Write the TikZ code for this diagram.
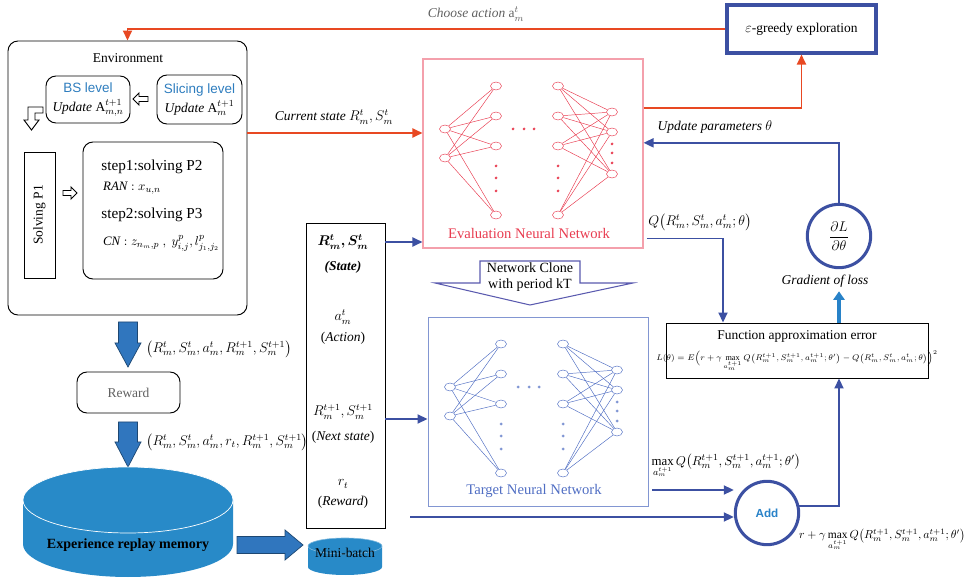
\documentclass[tikz,border=0pt]{standalone}
\usepackage{fontspec}
\setmainfont{Liberation Serif}
\setsansfont{Liberation Sans}
\usepackage{amsmath,bm}
\usetikzlibrary{positioning, shapes.geometric, arrows.meta}
\usepackage{xcolor}
\definecolor{act_orange}{RGB}{232,72,34}
\definecolor{line_blue}{RGB}{60,80,162}
\definecolor{eval_red}{RGB}{232,60,80}
\definecolor{eval_pink}{RGB}{244,160,172}
\definecolor{tgt_blue}{RGB}{80,110,195}
\definecolor{tgt_frame}{RGB}{130,150,210}
\definecolor{mem_blue}{RGB}{40,138,200}
\definecolor{blk_blue}{RGB}{48,118,190}
\definecolor{lvl_blue}{RGB}{46,125,190}
\definecolor{grad_blue}{RGB}{40,130,200}
\definecolor{clone_blue}{RGB}{90,90,175}

\tikzset{
  envbox/.style={draw, thick, rounded corners=3mm},
  lvlbox/.style={draw, thick, rounded corners=3mm, align=center},
  neuron/.style={ellipse, draw, minimum width=3.3mm, minimum height=2.4mm, inner sep=0pt},
  actarrow/.style={act_orange, line width=1.6pt, -{Triangle[length=3mm,width=2.7mm]}},
  flowarrow/.style={line_blue, line width=1.6pt, -{Triangle[length=3mm,width=2.7mm]}},
  blockarrow/.style={fill=blk_blue, draw=blk_blue!60!black, line width=0.6pt},
  hollowarrow/.style={fill=white, draw=black, line width=0.8pt}
}

% one Q-network (drawn inside a shifted scope)
\newcommand{\qnet}[3]{%
  \foreach \y [count=\i] in {70,99} \node[neuron, draw=#1] (#2-in\i) at (22,\y) {};
  \foreach \y [count=\i] in {27,57,87,156} {
    \node[neuron, draw=#1] (#2-ha\i) at (73,\y) {};
    \node[neuron, draw=#1] (#2-hb\i) at (135,\y) {};
  }
  \foreach \y [count=\i] in {53,73,115} \node[neuron, draw=#1] (#2-out\i) at (189,\y) {};
  \foreach \i in {1,2} \foreach \j in {1,...,4} \draw[#1, line width=0.4pt] (#2-in\i) -- (#2-ha\j);
  \foreach \i in {1,...,4} \foreach \j in {1,2,3} \draw[#1, line width=0.4pt] (#2-hb\i) -- (#2-out\j);
  \foreach \y in {107,119,132} {
    \draw[#3] (73,\y) circle (0.35mm);
    \draw[#3] (135,\y) circle (0.35mm);
  }
  \foreach \y in {85,94,104} \draw[#3] (189,\y) circle (0.35mm);
  \foreach \x in {90,101,111} \draw[#3] (\x,70) circle (0.35mm);
}

\begin{document}
\begin{tikzpicture}[x=0.3mm, y=-0.3mm, font=\fontsize{11.5}{13}\selectfont]
  \useasboundingbox (0,0) rectangle (970,579);

  % 1. Environment
  \node[envbox, minimum width=71.7mm, minimum height=82.2mm] (env) at (127.5,178) {};
  \node (env-title) at (128,58) {Environment};
  \node[lvlbox, minimum width=25.2mm, minimum height=14.1mm, inner sep=1pt] (bs) at (88,99.5)
    {\textcolor{lvl_blue}{\sffamily BS level}\\[3pt] \textit{Update} $\mathrm{A}^{t+1}_{m,n}$};
  \node[lvlbox, minimum width=25.5mm, minimum height=14.7mm, inner sep=1pt] (slicing) at (199.5,99.5)
    {\textcolor{lvl_blue}{\sffamily Slicing level}\\[3pt] \textit{Update} $\mathrm{A}^{t+1}_{m}$};
  \filldraw[hollowarrow] (148,96.5) -- (139,96.5) -- (139,93) -- (133,99) -- (139,105) -- (139,101.5) -- (148,101.5) -- cycle;
  \filldraw[hollowarrow] (43,107) -- (28,107) -- (28,120) -- (24,120) -- (31.5,130) -- (39,120) -- (35,120) -- (35,113) -- (43,113) -- cycle;
  \node[draw, thick, rotate=90, minimum width=37.8mm, minimum height=9.3mm] (p1) at (39.5,215) {Solving P1};
  \filldraw[hollowarrow] (63,190.5) -- (71,190.5) -- (71,187) -- (77,193) -- (71,199) -- (71,195.5) -- (63,195.5) -- cycle;
  \node[lvlbox, minimum width=42mm, minimum height=41.1mm] (steps) at (153,210.5) {};
  \node[font=\fontsize{13}{15}\selectfont] (s1) at (152,167) {step1:solving P2};
  \node[anchor=west, font=\fontsize{11}{13}\selectfont] (ran) at (99,188) {$\mathit{RAN}: x_{u,n}$};
  \node[font=\fontsize{13}{15}\selectfont] (s2) at (152,215) {step2:solving P3};
  \node[anchor=west, font=\fontsize{11}{13}\selectfont] (cn) at (99,243) {$\mathit{CN}: z_{n_m,p}\;,\ y^p_{i,j}, l^p_{j_1,j_2}$};

  % 2. Exploration and evaluation network
  \node[draw=line_blue, line width=2.6pt, minimum width=44.7mm, minimum height=14.4mm] (greedy) at (801.5,29) {$\varepsilon$-greedy exploration};
  \node[draw=eval_pink, line width=0.9pt, minimum width=66mm, minimum height=56.7mm] (eval) at (533,153.5) {};
  \begin{scope}[shift={(423,59)}]
    \qnet{eval_red}{ev}{fill=eval_red, draw=eval_red}
    \node[text=eval_red, font=\fontsize{12.5}{14}\selectfont] (eval-label) at (106,174) {Evaluation Neural Network};
  \end{scope}

  \draw[actarrow] (greedy.west) -| (env.north);
  \node[text=gray!75!black] (choose) at (476,14) {\textit{Choose action} $\mathrm{a}^t_m$};
  \draw[actarrow] ([yshift=13.5mm]env.east) -- ([yshift=13.5mm]env.east -| eval.west);
  \node (cur) at (334,117) {\textit{Current state} $R^t_m,S^t_m$};
  \draw[actarrow] ([yshift=13.6mm]eval.east) -| (greedy.south);

  % 3. Clone and target network
  \draw[clone_blue, line width=0.9pt, fill=white] (480,261) -- (580,261) -- (580,283) -- (633,283) -- (530,305) -- (435,283) -- (480,283) -- cycle;
  \node[align=center, font=\fontsize{12}{14}\selectfont] (clone) at (530,277) {Network Clone\\with period kT};
  \node[draw=tgt_frame, line width=0.8pt, minimum width=66mm, minimum height=56.7mm] (target) at (538,411.5) {};
  \begin{scope}[shift={(428,317)}]
    \qnet{tgt_blue}{tg}{draw=tgt_blue, line width=0.4pt}
    \node[text=tgt_blue, font=\fontsize{12.5}{14}\selectfont] (target-label) at (106,174) {Target Neural Network};
  \end{scope}

  % 4. Mini-batch column
  \node[draw, thick, minimum width=23.7mm, minimum height=91.5mm] (batch) at (345.5,375.5) {};
  \node (st1) at (343,242) {$\bm{R^t_m,S^t_m}$};
  \node (st1b) at (343,267) {\textbf{\textit{(State)}}};
  \node (st2) at (343,317) {$a^t_m$};
  \node (st2b) at (343,338) {(\textit{Action})};
  \node (st3) at (343,412) {$R^{t+1}_m,S^{t+1}_m$};
  \node (st3b) at (343,437) {(\textit{Next state})};
  \node (st4) at (343,484) {$r_t$};
  \node (st4b) at (343,502) {(\textit{Reward})};
  \coordinate (nxt) at (343,419);
  \draw[flowarrow] (batch.east |- st1) -- (eval.west |- st1);
  \draw[flowarrow] (batch.east |- nxt) -- (target.west |- nxt);

  % 5. Loss and gradient
  \node[draw, thick, minimum width=78.6mm, minimum height=16.5mm] (func) at (797,350.5) {};
  \node (func-title) at (797,336) {Function approximation error};
  \node[font=\fontsize{7}{8}\selectfont, inner sep=0pt] (func-eq) at (797,361)
    {$L(\theta)=E\Bigl(r+\gamma\max\limits_{a^{t+1}_m}Q\bigl(R^{t+1}_m,S^{t+1}_m,a^{t+1}_m;\theta'\bigr)-Q\bigl(R^t_m,S^t_m,a^t_m;\theta\bigr)\Bigr)^2$};
  \node[circle, draw=line_blue, line width=2.6pt, minimum size=19mm, font=\fontsize{13}{15}\selectfont] (grad) at (839,236) {$\dfrac{\partial L}{\partial\theta}$};
  \node (gradtext) at (825,281) {\textit{Gradient of loss}};
  \node[circle, draw=line_blue, line width=2.6pt, minimum size=19mm, text=grad_blue, font=\sffamily\bfseries\fontsize{10}{12}\selectfont] (add) at (767,513) {Add};

  \draw[flowarrow] (grad.north) |- ([yshift=3.2mm]eval.east);
  \node (upd) at (715,127) {\textit{Update parameters} $\theta$};
  \draw[flowarrow] ([xshift=1mm,yshift=3mm]eval.south east) -| ([xshift=-22.2mm]func.north);
  \node (qeval) at (700,222) {$Q\bigl(R^t_m,S^t_m,a^t_m;\theta\bigr)$};
  \draw[grad_blue, line width=4pt, -{Triangle[length=2.6mm,width=3.4mm]}] (grad |- func.north) -- (grad |- gradtext.south);
  \draw[flowarrow] (add.12) -| (grad |- func.south);
  \node[font=\fontsize{11}{13}\selectfont] (maxq) at (726,466) {$\max\limits_{a^{t+1}_m} Q\bigl(R^{t+1}_m,S^{t+1}_m,a^{t+1}_m;\theta'\bigr)$};
  \draw[flowarrow] ([xshift=1.2mm]target.east |- 0,490) -- (add.west |- 0,490);
  \coordinate (rt) at (410,517);
  \draw[flowarrow] (rt) -- (add.west |- rt);
  \node[anchor=west, font=\fontsize{9.8}{12}\selectfont, inner sep=0pt] (target-q) at (799,540) {$r+\gamma\max\limits_{a^{t+1}_m} Q\bigl(R^{t+1}_m,S^{t+1}_m,a^{t+1}_m;\theta'\bigr)$};

  % 6. Reward and replay memory
  \filldraw[blockarrow] (118.5,322) -- (137.5,322) -- (137.5,343) -- (141,343) -- (128,367) -- (115,343) -- (118.5,343) -- cycle;
  \node[anchor=west] (tup1) at (142,349) {$\bigl(R^t_m,S^t_m,a^t_m,R^{t+1}_m,S^{t+1}_m\bigr)$};
  \node[draw=black, thick, rounded corners=3mm, minimum width=30.9mm, minimum height=12.3mm, text=gray!75!black] (reward) at (128.5,392.5) {Reward};
  \filldraw[blockarrow] (118.5,422) -- (137.5,422) -- (137.5,442) -- (141,442) -- (128,467) -- (115,442) -- (118.5,442) -- cycle;
  \node[anchor=west] (tup2) at (142,442) {$\bigl(R^t_m,S^t_m,a^t_m,r_t,R^{t+1}_m,S^{t+1}_m\bigr)$};

  \fill[mem_blue] (23,500) -- (23,544) arc[start angle=180, end angle=360, x radius=31.5mm, y radius=9.9mm] -- (233,500) -- cycle;
  \draw[white, fill=mem_blue, line width=0.6pt] (128,500) ellipse [x radius=31.5mm, y radius=9.9mm];
  \node[font=\bfseries\fontsize{12}{14}\selectfont] (memory) at (128,545) {Experience replay memory};
  \filldraw[blockarrow] (237,536.5) -- (285,536.5) -- (285,530) -- (303,545) -- (285,560) -- (285,553.5) -- (237,553.5) -- cycle;

  \fill[mem_blue] (308,546) -- (308,567) arc[start angle=180, end angle=360, x radius=11.1mm, y radius=2.4mm] -- (382,546) -- cycle;
  \draw[mem_blue!60!white, fill=mem_blue, line width=0.5pt] (345,546) ellipse [x radius=11.1mm, y radius=2.4mm];
  \node (minibatch) at (345,553) {Mini-batch};

\end{tikzpicture}
\end{document}
